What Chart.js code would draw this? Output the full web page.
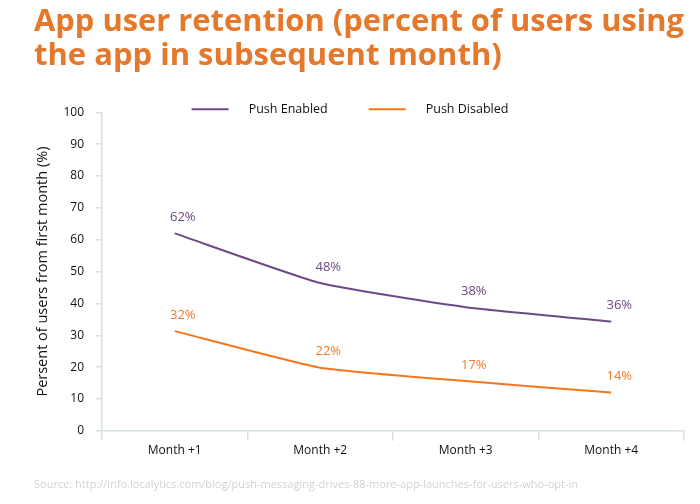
<!DOCTYPE html>
<html>
<head>
<meta charset="utf-8">
<script src="https://cdn.jsdelivr.net/npm/chart.js@4"></script>
<style>
  html, body { margin: 0; padding: 0; background: #fff; }
  #wrap { width: 700px; height: 504px; }
</style>
</head>
<body>
<div id="wrap"><canvas id="myChart" width="700" height="504"></canvas></div>
<script>
const months = ['Month +1', 'Month +2', 'Month +3', 'Month +4'];
const pushEnabled = [62, 46.4, 38.8, 34.3];
const pushDisabled = [31.3, 19.8, 15.6, 12.0];
const enabledLabels = ['62%', '48%', '38%', '36%'];
const disabledLabels = ['32%', '22%', '17%', '14%'];
const yTicks = [0, 10, 20, 30, 40, 50, 60, 70, 80, 90, 100];

const purple = '#6d4a86';
const orange = '#f8761b';
const fontFam = "'Open Sans', sans-serif";

// value labels above each point
const pointLabels = {
  id: 'pointLabels',
  afterDatasetsDraw(chart) {
    const c = chart.ctx;
    c.save();
    c.font = '13px ' + fontFam;
    c.textAlign = 'center';
    c.textBaseline = 'middle';
    chart.data.datasets.forEach((ds, i) => {
      const meta = chart.getDatasetMeta(i);
      c.fillStyle = ds.labelColor;
      meta.data.forEach((pt, j) => {
        c.fillText(ds.valueLabels[j], pt.x + 8, pt.y - 16);
      });
    });
    c.restore();
  }
};

// legend: line sample, gap, text
const lineLegend = {
  id: 'lineLegend',
  afterDraw(chart) {
    const c = chart.ctx;
    c.save();
    c.font = '12.5px ' + fontFam;
    c.textBaseline = 'middle';
    const sample = 37, gap = 20, between = 41;
    const items = chart.data.datasets.map(ds => ({ ds, w: c.measureText(ds.label).width }));
    let total = items.reduce((s, it) => s + sample + gap + it.w, 0) + between * (items.length - 1);
    let x = chart.width / 2 - total / 2;
    const y = chart.chartArea.top - 3;
    items.forEach(it => {
      c.strokeStyle = it.ds.borderColor;
      c.lineWidth = 2;
      c.beginPath();
      c.moveTo(x, y);
      c.lineTo(x + sample, y);
      c.stroke();
      c.fillStyle = '#111';
      c.fillText(it.ds.label, x + sample + gap, y);
      x += sample + gap + it.w + between;
    });
    c.restore();
  }
};

const ctx = document.getElementById('myChart');

new Chart(ctx, {
  type: 'line',
  data: {
    labels: months,
    datasets: [{
      label: 'Push Enabled',
      data: pushEnabled,
      valueLabels: enabledLabels,
      labelColor: '#6a4a82',
      borderColor: purple,
      borderWidth: 2,
      tension: 0.15,
      pointRadius: 0,
      fill: false
    }, {
      label: 'Push Disabled',
      data: pushDisabled,
      valueLabels: disabledLabels,
      labelColor: '#ee7a2c',
      borderColor: orange,
      borderWidth: 2,
      tension: 0.15,
      pointRadius: 0,
      fill: false
    }]
  },
  options: {
    responsive: false,
    animation: false,
    layout: { padding: { left: 34, right: 16, top: 0, bottom: 0 } },
    scales: {
      x: {
        offset: true,
        grid: {
          offset: true,
          drawOnChartArea: false,
          drawTicks: true,
          tickLength: 10,
          color: '#d8e1e5',
          lineWidth: 1.5
        },
        border: { color: '#d8e1e5', width: 1.5 },
        ticks: {
          color: '#111',
          font: { size: 12, family: fontFam },
          padding: 3,
          maxRotation: 0
        },
        afterFit: s => { s.height = 30; }
      },
      y: {
        min: 0,
        max: 100,
        afterBuildTicks: s => { s.ticks = yTicks.map(v => ({ value: v })); },
        grid: {
          drawOnChartArea: false,
          drawTicks: true,
          tickLength: 6,
          color: '#d8e1e5',
          lineWidth: 1.5
        },
        border: { color: '#d8e1e5', width: 1.5 },
        ticks: {
          color: '#111',
          font: { size: 12, family: fontFam },
          padding: 12
        },
        title: {
          display: true,
          text: 'Persent of users from first month (%)',
          color: '#111',
          font: { size: 14.5, family: fontFam },
          padding: { top: 0, bottom: 0 }
        },
        afterFit: s => { s.width = 68; }
      }
    },
    plugins: {
      legend: { display: false },
      tooltip: { enabled: false },
      title: {
        display: true,
        text: ['App user retention (percent of users using', 'the app in subsequent month)'],
        align: 'start',
        color: '#e5782a',
        font: { size: 31, weight: 'bold', family: fontFam, lineHeight: 1.07 },
        padding: { top: 6, bottom: 40 }
      },
      subtitle: {
        display: true,
        position: 'bottom',
        align: 'start',
        text: 'Source: http://info.localytics.com/blog/push-messaging-drives-88-more-app-launches-for-users-who-opt-in',
        color: '#cfd3d6',
        font: { size: 11, family: fontFam, lineHeight: 1.2 },
        padding: { top: 17, bottom: 13 }
      }
    }
  },
  plugins: [pointLabels, lineLegend]
});
</script>
</body>
</html>
